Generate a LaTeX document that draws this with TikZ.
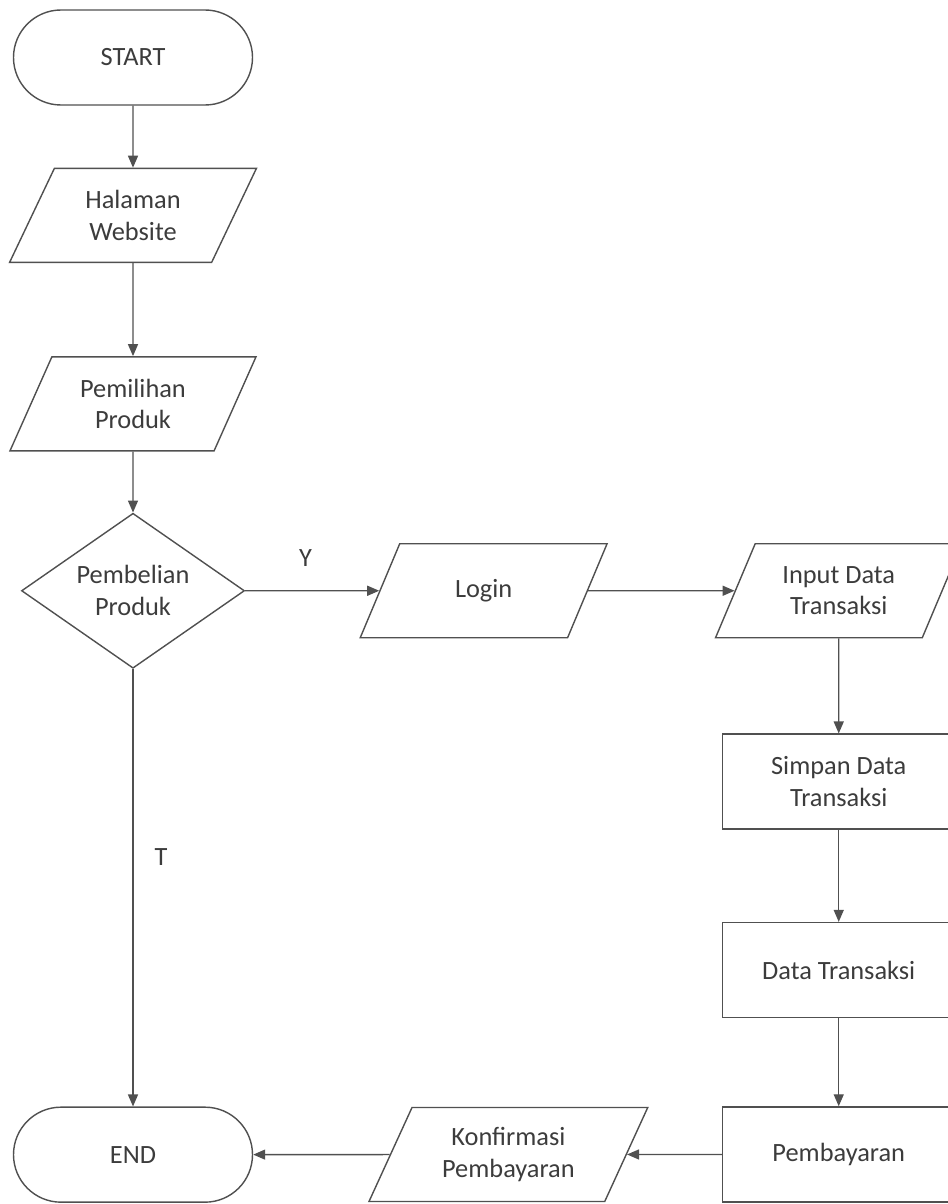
\documentclass[tikz,border=0pt]{standalone}
\usepackage{fontspec}
\setmainfont{Carlito}
\usepackage{xcolor}
\usepackage{tikz}
\usetikzlibrary{shapes,arrows,arrows.meta,positioning}

\definecolor{linegray}{HTML}{505050}
\definecolor{textgray}{HTML}{3C3C3C}

\begin{document}
\begin{tikzpicture}[
    node distance=1.2cm and 2.7cm,
    base/.style={draw=linegray, line width=0.8pt, align=center, text=textgray, font=\fontsize{15}{18}\selectfont, inner sep=2pt},
    terminal/.style={base, rectangle, rounded corners=0.95cm, minimum width=4.78cm, minimum height=1.9cm},
    io/.style={base, trapezium, trapezium left angle=63, trapezium right angle=117, trapezium stretches, minimum width=4.96cm, minimum height=1.88cm},
    process/.style={base, rectangle, minimum width=4.64cm, minimum height=1.9cm},
    decision/.style={base, diamond, aspect=1.44, minimum width=4.46cm, minimum height=3.1cm, inner sep=0pt},
    arrow/.style={->, >={Triangle[length=0.24cm, width=0.2cm]}, draw=linegray, line width=0.8pt},
    flag/.style={text=textgray, font=\fontsize{15}{18}\selectfont}
]
\useasboundingbox (0,0) rectangle (18.94,-24.08);

% Left column
\node[terminal] (start) at (2.66,-1.15) {START};
\node[io, below=1.24cm of start] (website) {Halaman\\Website};
\node[io, below=1.86cm of website] (pilih) {Pemilihan\\Produk};
\node[decision, below=1.22cm of pilih] (beli) {Pembelian\\Produk};

% Top row
\node[io, right=2.68cm of beli] (login) {Login};
\node[io, right=2.93cm of login] (input) {Input Data\\Transaksi};

% Right column
\node[process, below=1.9cm of input] (simpan) {Simpan Data\\Transaksi};
\node[process, below=1.84cm of simpan] (datatrans) {Data Transaksi};
\node[process, below=1.76cm of datatrans] (bayar) {Pembayaran};

% Bottom row
\node[io, minimum width=5.58cm, left=1.9cm of bayar] (konfirmasi) {Konfirmasi\\Pembayaran};
\node[terminal, below=8.75cm of beli] (end) {END};

% Arrows
\draw[arrow] (start) -- (website);
\draw[arrow] (website) -- (pilih);
\draw[arrow] (pilih) -- (beli);
\draw[arrow] (beli) -- node[flag, pos=0.45, above=0.35cm] {Y} (login);
\draw[arrow] (login) -- (input);
\draw[arrow] (input) -- (simpan);
\draw[arrow] (simpan) -- (datatrans);
\draw[arrow] (datatrans) -- (bayar);
\draw[arrow] (bayar) -- (konfirmasi);
\draw[arrow] (konfirmasi) -- (end);
\draw[arrow] (beli) -- node[flag, pos=0.43, right=0.3cm] {T} (end);

\end{tikzpicture}
\end{document}
